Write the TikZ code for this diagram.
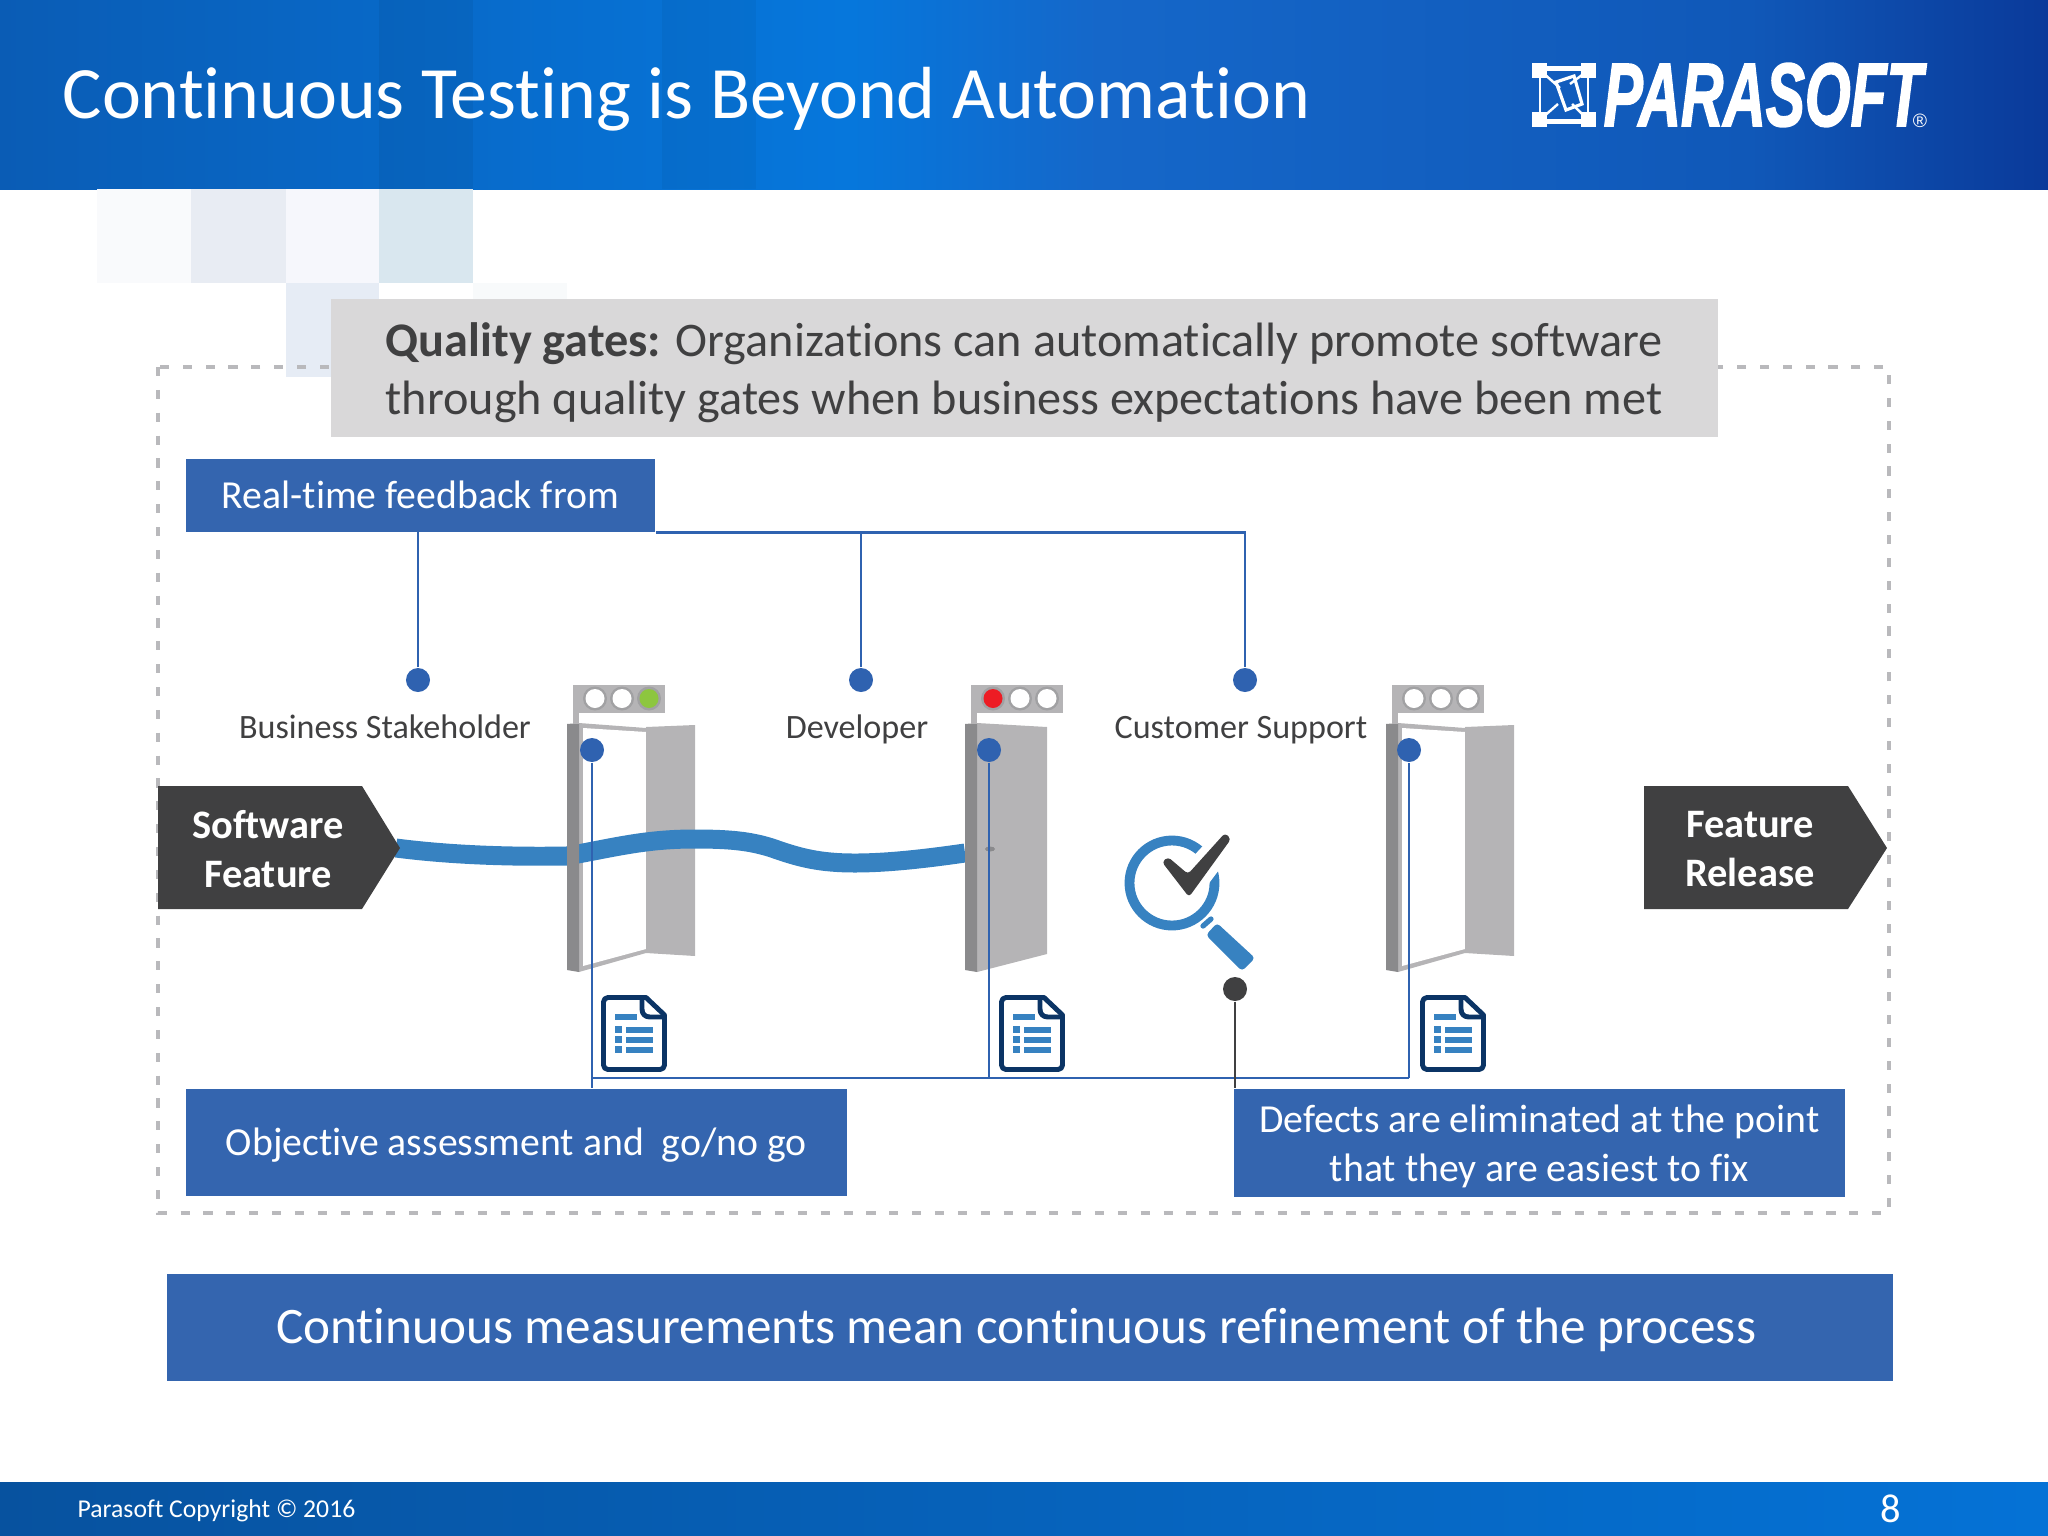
\documentclass[tikz,border=0pt]{standalone}
\usepackage{fontspec}
\setmainfont[Ligatures=NoCommon]{Carlito}
\newfontfamily\logofont[FakeBold=2.2]{Liberation Sans}
\newfontfamily\regfont{Liberation Sans}

\definecolor{boxblue}{HTML}{3465AF}
\definecolor{dotblue}{HTML}{2F62B0}
\definecolor{wave}{HTML}{3782C1}
\definecolor{navy}{HTML}{0B3465}
\definecolor{darkbox}{HTML}{404041}
\definecolor{gatebox}{HTML}{D9D8D9}
\definecolor{panel}{HTML}{B5B4B6}
\definecolor{jamb}{HTML}{8A8A8C}
\definecolor{dashgrey}{HTML}{B9B9BC}
\definecolor{lampgreen}{HTML}{8DC63F}
\definecolor{lampred}{HTML}{ED1C24}
\definecolor{headA}{HTML}{0A5CB5}
\definecolor{headB}{HTML}{0677DC}
\definecolor{headC}{HTML}{1567C9}
\definecolor{headD}{HTML}{1058B8}
\definecolor{headE}{HTML}{0A3A9A}
\definecolor{footA}{HTML}{07529F}
\definecolor{footB}{HTML}{0572D6}
\definecolor{tileA}{HTML}{F9FAFC}
\definecolor{tileB}{HTML}{E8ECF3}
\definecolor{tileC}{HTML}{F6F7FC}
\definecolor{tileD}{HTML}{D9E7EF}
\definecolor{tileE}{HTML}{E6ECF5}
\definecolor{tileF}{HTML}{F8FAFB}

\tikzset{
    bluebox/.style={fill=boxblue, inner sep=0pt, anchor=north west},
    bluetext/.style={text=white, inner sep=0pt, align=center, font=\fontsize{11.3}{13.8}\selectfont},
    arrowtext/.style={text=white, font=\fontsize{11.5}{13.8}\selectfont\bfseries, align=center},
    dotnode/.style={circle, fill=dotblue, inner sep=0pt, minimum size=0.24cm},
    feed/.style={draw=dotblue, line width=0.75pt},
    role/.style={text=darkbox, anchor=base, font=\fontsize{9.7}{12}\selectfont},
}

% lamps, door and document of one gate, #1 is the left edge of the door
\newcommand{\gatelamps}[4]{
    \fill[panel] (#1+6,685) rectangle (#1+98,713);
    \fill[panel] (#1+6,713) rectangle (#1+12,724);
    \foreach \lampx/\lampcol in {28/#2, 55/#3, 82/#4} {
        \fill[jamb!80!white] (#1+\lampx,698.5) circle (12);
        \fill[\lampcol] (#1+\lampx,698.5) circle (9.5);
    }
}
\newcommand{\opendoor}[1]{
    \fill[panel] (#1+12,723) -- (#1+79,728) -- (#1+79,953) -- (#1+12,972) -- cycle;
    \fill[white] (#1+16,728) -- (#1+79,732) -- (#1+79,949) -- (#1+16,966) -- cycle;
    \fill[panel] (#1+79,727) -- (#1+128,725) -- (#1+128,956) -- (#1+79,953) -- cycle;
}
\newcommand{\doorjamb}[1]{
    \fill[jamb] (#1,724) -- (#1+12,723) -- (#1+12,972) -- (#1,970) -- cycle;
}
\newcommand{\docicon}[1]{
    \draw[navy, line width=1.4pt, line join=round, fill=white]
        (#1+41,997.5) -- (#1+79,997.5) -- (#1+97.5,1015) -- (#1+97.5,1065)
        arc (0:90:4.5) -- (#1+41,1069.5) arc (90:180:4.5) -- (#1+36.5,1002) arc (180:270:4.5) -- cycle;
    \draw[navy, line width=1.4pt, line join=round]
        (#1+75,998) -- (#1+75,1009) .. controls (#1+75,1014) and (#1+78,1017) .. (#1+83,1017) -- (#1+98,1017);
    \fill[wave] (#1+48,1014) rectangle (#1+70,1020);
    \foreach \rowy in {1026,1036,1046} {
        \fill[wave] (#1+48,\rowy) rectangle (#1+55,\rowy+7);
        \fill[wave] (#1+59,\rowy+1) rectangle (#1+86,\rowy+7);
    }
}

\begin{document}
\begin{tikzpicture}[x=0.01cm, y=-0.01cm]
    \useasboundingbox (0,0) rectangle (2048,1536);

    % header band
    \shade[left color=headA, right color=headB] (0,0) rectangle (850,189);
    \shade[left color=headB, right color=headC] (850,0) rectangle (1100,189);
    \shade[left color=headC, right color=headD] (1100,0) rectangle (1750,189);
    \shade[left color=headD, right color=headE] (1750,0) rectangle (2048,189);
    \fill[black, opacity=0.05] (379,0) rectangle (473,189);
    \fill[black, opacity=0.04] (662,0) rectangle (756,189);
    \node[text=white, anchor=west, inner sep=0pt, font=\fontsize{21}{25}\selectfont] (title) at (62,99) {Continuous Testing is Beyond Automation};

    % logo
    \fill[white] (1532,63) rectangle +(15,15);
    \fill[white] (1581,63) rectangle +(15,15);
    \fill[white] (1532,112) rectangle +(15,15);
    \fill[white] (1581,112) rectangle +(15,15);
    \draw[white, line width=0.8pt] (1540,70) rectangle (1588,120);
    \fill[white] (1547,66) rectangle (1581,70);
    \fill[white] (1547,120) rectangle (1581,124);
    \draw[white, line width=0.9pt] (1556,82) -- (1574,76) -- (1582,104) -- (1566,110) -- cycle;
    \draw[white, line width=0.7pt] (1542,72) -- (1560,88) (1586,72) -- (1570,84) (1542,118) -- (1558,104) (1586,118) -- (1572,104);
    \node[text=white, inner sep=0pt, anchor=west, font=\fontsize{25.5}{28}\logofont\bfseries\itshape] (logo) at (1603,95) {\scalebox{0.655}[1]{PARASOFT}};
    \node[text=white, inner sep=0pt, font=\fontsize{5.5}{6}\regfont] (regmark) at (1920,121) {®};

    % footer band
    \shade[left color=footA, right color=footB] (0,1482) rectangle (2048,1536);
    \node[text=white, anchor=west, inner sep=0pt, font=\fontsize{7.3}{9}\selectfont] (copyright) at (77,1510.5) {Parasoft Copyright © 2016};
    \node[text=white, inner sep=0pt, font=\fontsize{11.5}{13}\selectfont] (pagenum) at (1891,1509) {8};

    % pale tiles under the header
    \fill[tileA] (97,189) rectangle (191,283);
    \fill[tileB] (191,189) rectangle (286,283);
    \fill[tileC] (286,189) rectangle (379,283);
    \fill[tileD] (379,189) rectangle (473,283);
    \fill[tileE] (286,283) rectangle (379,377);
    \fill[tileF] (473,283) rectangle (567,377);

    % dashed frame
    \draw[dashgrey, line width=1.15pt, dash pattern=on 2.6pt off 3.9pt] (158,367) rectangle (1889,1213);

    \node[fill=gatebox, inner sep=0pt, anchor=north west, minimum width=13.86cm, minimum height=1.38cm] (gates) at (330,298) {};
    \node[text=darkbox, anchor=west, inner sep=0pt, align=left, font=\fontsize{13.72}{16.5}\selectfont] (gatestext) at (385,372.5) {\textbf{Quality gates:} Organizations can automatically promote software\\through quality gates when business expectations have been met};

    % gates, the wave runs over the open doors and under the jambs
    \opendoor{567}
    \fill[panel] (977,723) -- (1047,727) -- (1047,954) -- (977,972) -- cycle;
    \opendoor{1386}
    \draw[wave, line width=5.4pt] (396,848) .. controls (450,855) and (510,857) .. (567,856) -- (583,853) .. controls (620,846) and (650,839) .. (694,839) .. controls (730,839) and (750,841) .. (772,848) .. controls (800,858) and (820,863) .. (855,863) .. controls (890,863) and (930,858) .. (965,853);
    \doorjamb{567}
    \doorjamb{965}
    \doorjamb{1386}
    \fill[jamb] (990,849) ellipse (5 and 2.5);
    \gatelamps{567}{white}{white}{lampgreen}
    \gatelamps{965}{lampred}{white}{white}
    \gatelamps{1386}{white}{white}{white}
    \docicon{567}
    \docicon{965}
    \docicon{1386}

    % software feature and release tags
    \fill[darkbox] (158,786) -- (362,786) -- (400,848) -- (362,909) -- (158,909) -- cycle;
    \node[arrowtext] (feature) at (268,849) {Software\\Feature};
    \fill[darkbox] (1644,786) -- (1848,786) -- (1887,848) -- (1848,909) -- (1644,909) -- cycle;
    \node[arrowtext] (featrelease) at (1750,849) {Feature\\Release};

    % magnifier
    \draw[wave, line width=2.8pt] (1172,883) circle (42.5);
    \draw[wave, line width=1.5pt, line cap=round] (1203,926) -- (1211,919);
    \fill[wave, rounded corners=1pt] (1206,935) -- (1217,923) -- (1255,958) -- (1242,971) -- cycle;
    \fill[white] (1151,862) -- (1168,846) -- (1188,862) -- (1225,822) -- (1242,839) -- (1189,910) -- cycle;
    \fill[darkbox, rounded corners=1pt] (1162,862) -- (1168,857) -- (1188,874) -- (1225,833) -- (1231,839) -- (1189,897) -- cycle;

    % feedback from above
    \node[bluebox, minimum width=4.69cm, minimum height=0.73cm] (feedback) at (185,458) {};
    \node[bluetext] (feedbacktext) at (feedback.center) {Real-time feedback from};
    \node[dotnode] (dotbiz) at (418,680) {};
    \node[dotnode] (dotdev) at (861,680) {};
    \node[dotnode] (dotcust) at (1245,680) {};
    \draw[feed] (dotbiz) -- (dotbiz |- feedback.south);
    \draw[feed] (dotdev) -- (dotdev |- feedback.south);
    \draw[feed] (feedback.south east) -- (dotcust |- feedback.south) -- (dotcust);
    \node[role] (bizlabel) at (385,738.5) {Business Stakeholder};
    \node[role] (devlabel) at (857,738.5) {Developer};
    \node[role] (custlabel) at (1241,738.5) {Customer Support};

    % assessment from below
    \node[bluebox, minimum width=6.61cm, minimum height=1.07cm] (objective) at (185,1088) {};
    \node[bluetext, yshift=-0.025cm] (objectivetext) at (objective.center) {Objective assessment and\ \ go/no go};
    \node[bluebox, minimum width=6.11cm, minimum height=1.08cm] (defects) at (1233,1088) {};
    \node[bluetext, yshift=-0.035cm] (defectstext) at (defects.center) {Defects are eliminated at the point\\that they are easiest to fix};
    \node[dotnode] (gateA) at (592,750) {};
    \node[dotnode] (gateB) at (989,750) {};
    \node[dotnode] (gateC) at (1409,750) {};
    \node[dotnode, fill=darkbox] (dotfix) at (1235,989) {};
    \coordinate (joinA) at (592,1078);
    \draw[feed] (gateA) -- (gateA |- objective.north);
    \draw[feed] (gateB) -- (gateB |- joinA);
    \draw[feed, line width=0.55pt] (joinA) -- (gateC |- joinA);
    \draw[feed] (gateC |- joinA) -- (gateC);
    \draw[darkbox, line width=0.75pt] (dotfix) -- (dotfix |- defects.north);

    % bottom banner
    \node[bluebox, minimum width=17.25cm, minimum height=1.07cm] (banner) at (166,1273) {};
    \node[bluetext, xshift=-0.135cm, yshift=-0.025cm, font=\fontsize{14.56}{18}\selectfont] (bannertext) at (banner.center) {Continuous measurements mean continuous refinement of the process};
\end{tikzpicture}
\end{document}
